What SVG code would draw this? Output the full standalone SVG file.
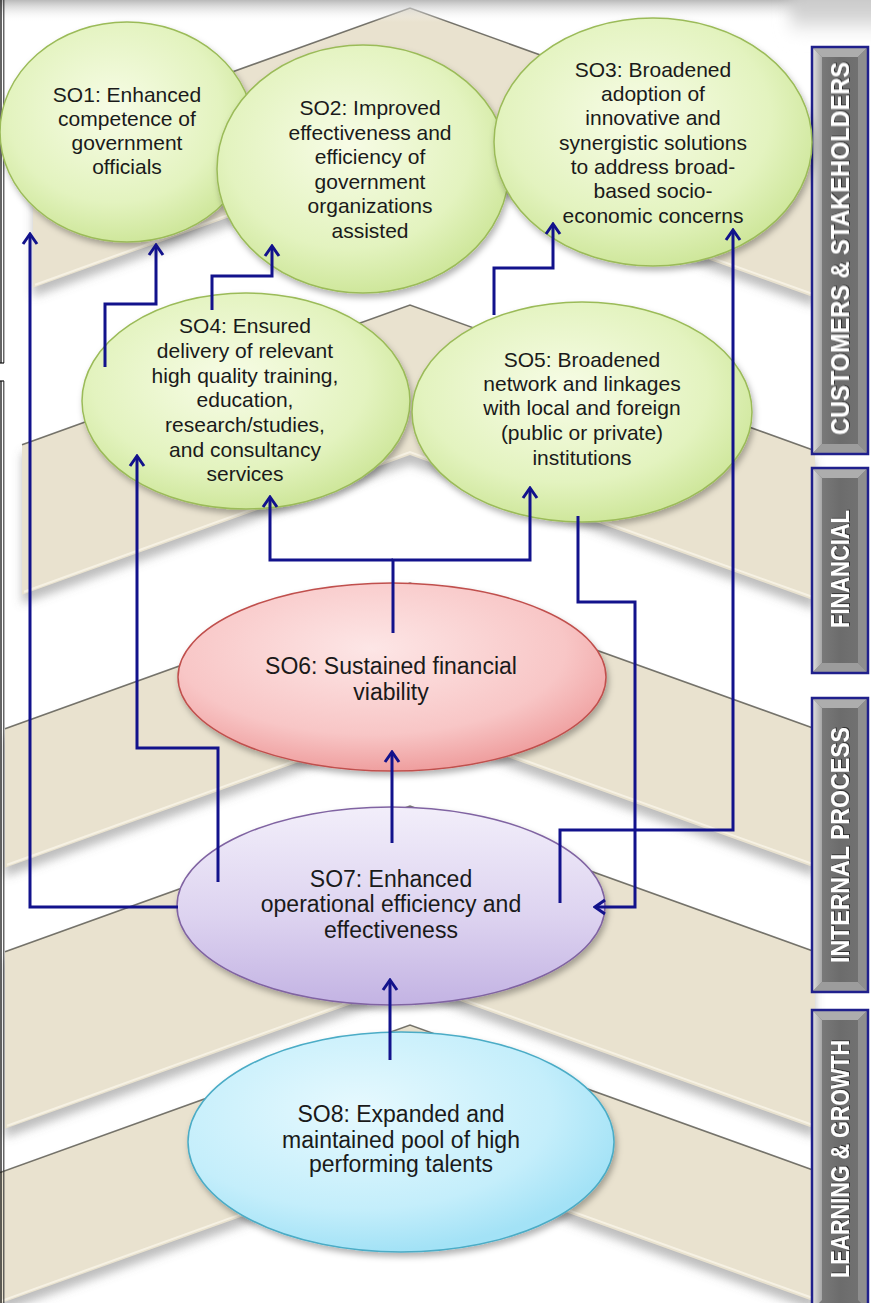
<svg xmlns="http://www.w3.org/2000/svg" width="871" height="1303" viewBox="0 0 871 1303">
<style>
.band{fill:#e9e2cf}
.bandsh{fill:#6e6e6e;opacity:0.45}
.topedge{fill:none;stroke:#4a4840;stroke-width:1.6;opacity:0.75}
.hilite{fill:none;stroke:#f7f3e6;stroke-width:2;opacity:0.9}
.lbl{font-family:"Liberation Sans",Arial,sans-serif;font-size:21px;fill:#1a1a1a;text-anchor:middle}
.lbl2{font-family:"Liberation Sans",Arial,sans-serif;font-size:23px;fill:#1a1a1a;text-anchor:middle}
.ptxt{font-family:"Liberation Sans",Arial,sans-serif;font-size:26px;font-weight:bold;fill:#ffffff;text-anchor:middle}
.conn{fill:none;stroke:#12128c;stroke-width:3;stroke-linejoin:miter}
.pborder{fill:none;stroke:#20208c;stroke-width:2.5}
.g{stroke:#9bbb59;stroke-width:1.5}
</style>
<defs>
<radialGradient id="gGreen" cx="45%" cy="40%" r="60%">
<stop offset="0%" stop-color="#f7fce6"/>
<stop offset="70%" stop-color="#e3f3bf"/>
<stop offset="100%" stop-color="#cfe79c"/>
</radialGradient>
<radialGradient id="gRed" cx="45%" cy="35%" r="65%">
<stop offset="0%" stop-color="#fde6e6"/>
<stop offset="70%" stop-color="#f8c6c6"/>
<stop offset="100%" stop-color="#ef9f9f"/>
</radialGradient>
<linearGradient id="gPurple" x1="0" y1="0" x2="0" y2="1">
<stop offset="0%" stop-color="#f2eefa"/>
<stop offset="55%" stop-color="#ddd3f0"/>
<stop offset="100%" stop-color="#c3b3e3"/>
</linearGradient>
<radialGradient id="gCyan" cx="40%" cy="35%" r="65%">
<stop offset="0%" stop-color="#e6f9fe"/>
<stop offset="70%" stop-color="#c4eefb"/>
<stop offset="100%" stop-color="#a3e2f6"/>
</radialGradient>
<linearGradient id="gTop" x1="0" y1="0" x2="0" y2="1">
<stop offset="0%" stop-color="#b9b9b9"/>
<stop offset="100%" stop-color="#ffffff" stop-opacity="0"/>
</linearGradient>
<linearGradient id="gTopR" x1="0" y1="0" x2="0" y2="1">
<stop offset="0%" stop-color="#c4c4c4"/>
<stop offset="60%" stop-color="#d8d8d8"/>
<stop offset="100%" stop-color="#ffffff" stop-opacity="0"/>
</linearGradient>
<linearGradient id="gPLeft" x1="0" y1="0" x2="1" y2="0">
<stop offset="0%" stop-color="#e2e2e2"/>
<stop offset="100%" stop-color="#a6a6a6"/>
</linearGradient>
<linearGradient id="gPFace" x1="0" y1="0" x2="1" y2="0">
<stop offset="0%" stop-color="#808080"/>
<stop offset="50%" stop-color="#6c6c6c"/>
<stop offset="100%" stop-color="#747474"/>
</linearGradient>
<filter id="blur" x="-10%" y="-20%" width="120%" height="140%">
<feGaussianBlur stdDeviation="5"/>
</filter>
<filter id="soft" x="-100%" y="-100%" width="300%" height="300%">
<feGaussianBlur stdDeviation="8"/>
</filter>
<filter id="eshadow" x="-10%" y="-10%" width="125%" height="130%">
<feDropShadow dx="2" dy="4" stdDeviation="3" flood-color="#000000" flood-opacity="0.3"/>
</filter>
<filter id="tshadow" x="-5%" y="-20%" width="110%" height="140%">
<feDropShadow dx="1" dy="1" stdDeviation="0.6" flood-color="#222222" flood-opacity="0.8"/>
</filter>
<marker id="arr" viewBox="-13 -9 15 18" refX="0" refY="0" markerWidth="15" markerHeight="18" markerUnits="userSpaceOnUse" orient="auto">
<path d="M-10,-7 L0,0 L-10,7" fill="none" stroke="#12128c" stroke-width="3"/>
</marker>
</defs>

<rect x="0" y="0" width="871" height="1303" fill="#ffffff"/>

<g id="background">
<g filter="url(#blur)" transform="translate(0,9)">
<polygon class="bandsh" points="33,143.7 410,8 815,153.8 815,297.8 410,152 33,287.7"/>
<polygon class="bandsh" points="22,444.7 410,305 815,450.8 815,600.8 410,455 22,594.7"/>
<polygon class="bandsh" points="5,728.8 410,583 815,728.8 815,867.8 410,722 5,867.8"/>
<polygon class="bandsh" points="5,951.8 410,806 815,951.8 815,1128.8 410,983 5,1128.8"/>
<polygon class="bandsh" points="0,1172.6 410,1025 815,1170.8 815,1301.8 410,1156 0,1303.6"/>
</g>
<polygon class="band" points="33,143.7 410,8 815,153.8 815,297.8 410,152 33,287.7"/>
<polygon class="band" points="22,444.7 410,305 815,450.8 815,600.8 410,455 22,594.7"/>
<polygon class="band" points="5,728.8 410,583 815,728.8 815,867.8 410,722 5,867.8"/>
<polygon class="band" points="5,951.8 410,806 815,951.8 815,1128.8 410,983 5,1128.8"/>
<polygon class="band" points="0,1172.6 410,1025 815,1170.8 815,1301.8 410,1156 0,1303.6"/>
<polyline class="hilite" points="35,284.7 410,149 815,294.8"/>
<polyline class="hilite" points="24,591.7 410,452 815,597.8"/>
<polyline class="hilite" points="7,864.8 410,719 815,864.8"/>
<polyline class="hilite" points="7,1125.8 410,980 815,1125.8"/>
<polyline class="hilite" points="2,1300.6 410,1153 815,1298.8"/>
<polyline class="topedge" points="33,143.7 410,8 815,153.8"/>
<polyline class="topedge" points="22,444.7 410,305 815,450.8"/>
<polyline class="topedge" points="5,728.8 410,583 815,728.8"/>
<polyline class="topedge" points="5,951.8 410,806 815,951.8"/>
<polyline class="topedge" points="0,1172.6 410,1025 815,1170.8"/>
<rect x="0" y="0" width="871" height="22" fill="url(#gTop)"/>
<rect x="790" y="-10" width="100" height="50" fill="url(#gTopR)" filter="url(#soft)"/>
<line x1="1" y1="0" x2="1" y2="363" stroke="#111" stroke-width="1.3"/>
<line x1="3.8" y1="0" x2="3.8" y2="363" stroke="#333" stroke-width="1.1"/>
<line x1="0" y1="363" x2="4" y2="363" stroke="#111" stroke-width="1.2"/>
<line x1="0" y1="381" x2="4" y2="381" stroke="#111" stroke-width="1.2"/>
<line x1="1" y1="381" x2="1" y2="1303" stroke="#111" stroke-width="1.3"/>
<line x1="3.8" y1="381" x2="3.8" y2="1303" stroke="#333" stroke-width="1.1"/>
</g>

<g id="panel-customers">
<rect x="812" y="47" width="56" height="407" fill="url(#gPFace)"/>
<polygon points="812,47 868,47 858,57 822,57" fill="#adadad"/>
<polygon points="812,47 822,57 822,444 812,454" fill="url(#gPLeft)"/>
<polygon points="868,47 868,454 858,444 858,57" fill="#8e8e8e"/>
<polygon points="812,454 822,444 858,444 868,454" fill="#9c9c9c"/>
<rect class="pborder" x="812" y="47" width="56" height="407"/>
<text class="ptxt" filter="url(#tshadow)" transform="translate(849,248.5) rotate(-90)" textLength="373" lengthAdjust="spacingAndGlyphs">CUSTOMERS &amp; STAKEHOLDERS</text>
</g>
<g id="panel-financial">
<rect x="812" y="468" width="56" height="205" fill="url(#gPFace)"/>
<polygon points="812,468 868,468 858,478 822,478" fill="#adadad"/>
<polygon points="812,468 822,478 822,663 812,673" fill="url(#gPLeft)"/>
<polygon points="868,468 868,673 858,663 858,478" fill="#8e8e8e"/>
<polygon points="812,673 822,663 858,663 868,673" fill="#9c9c9c"/>
<rect class="pborder" x="812" y="468" width="56" height="205"/>
<text class="ptxt" filter="url(#tshadow)" transform="translate(849,569) rotate(-90)" textLength="118" lengthAdjust="spacingAndGlyphs">FINANCIAL</text>
</g>
<g id="panel-internal">
<rect x="812" y="698" width="56" height="294" fill="url(#gPFace)"/>
<polygon points="812,698 868,698 858,708 822,708" fill="#adadad"/>
<polygon points="812,698 822,708 822,982 812,992" fill="url(#gPLeft)"/>
<polygon points="868,698 868,992 858,982 858,708" fill="#8e8e8e"/>
<polygon points="812,992 822,982 858,982 868,992" fill="#9c9c9c"/>
<rect class="pborder" x="812" y="698" width="56" height="294"/>
<text class="ptxt" filter="url(#tshadow)" transform="translate(849,845) rotate(-90)" textLength="236" lengthAdjust="spacingAndGlyphs">INTERNAL PROCESS</text>
</g>
<g id="panel-learning">
<rect x="812" y="1010" width="56" height="300" fill="url(#gPFace)"/>
<polygon points="812,1010 868,1010 858,1020 822,1020" fill="#adadad"/>
<polygon points="812,1010 822,1020 822,1300 812,1310" fill="url(#gPLeft)"/>
<polygon points="868,1010 868,1310 858,1300 858,1020" fill="#8e8e8e"/>
<rect class="pborder" x="812" y="1010" width="56" height="300"/>
<text class="ptxt" filter="url(#tshadow)" transform="translate(849,1159) rotate(-90)" textLength="238" lengthAdjust="spacingAndGlyphs">LEARNING &amp; GROWTH</text>
</g>

<g id="SO1">
<ellipse cx="127" cy="132" rx="127" ry="110" fill="url(#gGreen)" class="g" filter="url(#eshadow)"/>
<text class="lbl"><tspan x="127" y="102">SO1: Enhanced</tspan><tspan x="127" y="126">competence of</tspan><tspan x="127" y="150">government</tspan><tspan x="127" y="174">officials</tspan></text>
</g>
<g id="SO2">
<ellipse cx="363" cy="169" rx="146" ry="124" fill="url(#gGreen)" class="g" filter="url(#eshadow)"/>
<text class="lbl"><tspan x="370" y="115">SO2: Improved</tspan><tspan x="370" y="139.5">effectiveness and</tspan><tspan x="370" y="164">efficiency of</tspan><tspan x="370" y="188.5">government</tspan><tspan x="370" y="213">organizations</tspan><tspan x="370" y="237.5">assisted</tspan></text>
</g>
<g id="SO3">
<ellipse cx="653" cy="142" rx="159" ry="124" fill="url(#gGreen)" class="g" filter="url(#eshadow)"/>
<text class="lbl"><tspan x="653" y="77">SO3: Broadened</tspan><tspan x="653" y="101">adoption of</tspan><tspan x="653" y="125">innovative and</tspan><tspan x="653" y="149.5">synergistic solutions</tspan><tspan x="653" y="174">to address broad-</tspan><tspan x="653" y="198">based socio-</tspan><tspan x="653" y="222.5">economic concerns</tspan></text>
</g>
<g id="SO4">
<ellipse cx="246" cy="401" rx="164" ry="108" fill="url(#gGreen)" class="g" filter="url(#eshadow)"/>
<text class="lbl"><tspan x="245" y="333">SO4: Ensured</tspan><tspan x="245" y="358">delivery of relevant</tspan><tspan x="245" y="382.5">high quality training,</tspan><tspan x="245" y="407">education,</tspan><tspan x="245" y="432">research/studies,</tspan><tspan x="245" y="457">and consultancy</tspan><tspan x="245" y="481">services</tspan></text>
</g>
<g id="SO5">
<ellipse cx="582" cy="412" rx="170" ry="110" fill="url(#gGreen)" class="g" filter="url(#eshadow)"/>
<text class="lbl"><tspan x="582" y="367">SO5: Broadened</tspan><tspan x="582" y="391">network and linkages</tspan><tspan x="582" y="415">with local and foreign</tspan><tspan x="582" y="440">(public or private)</tspan><tspan x="582" y="465">institutions</tspan></text>
</g>
<g id="SO6">
<ellipse cx="392" cy="677" rx="214" ry="94" fill="url(#gRed)" stroke="#c0504d" stroke-width="1.5" filter="url(#eshadow)"/>
<text class="lbl2"><tspan x="391" y="674">SO6: Sustained financial</tspan><tspan x="391" y="700">viability</tspan></text>
</g>
<g id="SO7">
<ellipse cx="391" cy="906" rx="214" ry="99" fill="url(#gPurple)" stroke="#8064a2" stroke-width="1.5" filter="url(#eshadow)"/>
<text class="lbl2"><tspan x="391" y="887">SO7: Enhanced</tspan><tspan x="391" y="912">operational efficiency and</tspan><tspan x="391" y="938">effectiveness</tspan></text>
</g>
<g id="SO8">
<ellipse cx="401" cy="1142" rx="213" ry="110" fill="url(#gCyan)" stroke="#4bacc6" stroke-width="1.5" filter="url(#eshadow)"/>
<text class="lbl2"><tspan x="401" y="1122">SO8: Expanded and</tspan><tspan x="401" y="1148">maintained pool of high</tspan><tspan x="401" y="1172">performing talents</tspan></text>
</g>

<g id="connectors">
<path class="conn" d="M178,907 H30 V234" marker-end="url(#arr)"/>
<path class="conn" d="M105,367 V304 H156 V245" marker-end="url(#arr)"/>
<path class="conn" d="M212,310 V276 H272 V246" marker-end="url(#arr)"/>
<path class="conn" d="M494,315 V268 H553 V224" marker-end="url(#arr)"/>
<path class="conn" d="M560,903 V830 H733 V230" marker-end="url(#arr)"/>
<path class="conn" d="M578,516 V602 H635 V907 H595" marker-end="url(#arr)"/>
<path class="conn" d="M393,633 V560 H530 V488" marker-end="url(#arr)"/>
<path class="conn" d="M393,560 H270 V497" marker-end="url(#arr)"/>
<path class="conn" d="M218,882 V748 H137 V456" marker-end="url(#arr)"/>
<path class="conn" d="M392,843 V752" marker-end="url(#arr)"/>
<path class="conn" d="M390,1060 V980" marker-end="url(#arr)"/>
</g>
</svg>
